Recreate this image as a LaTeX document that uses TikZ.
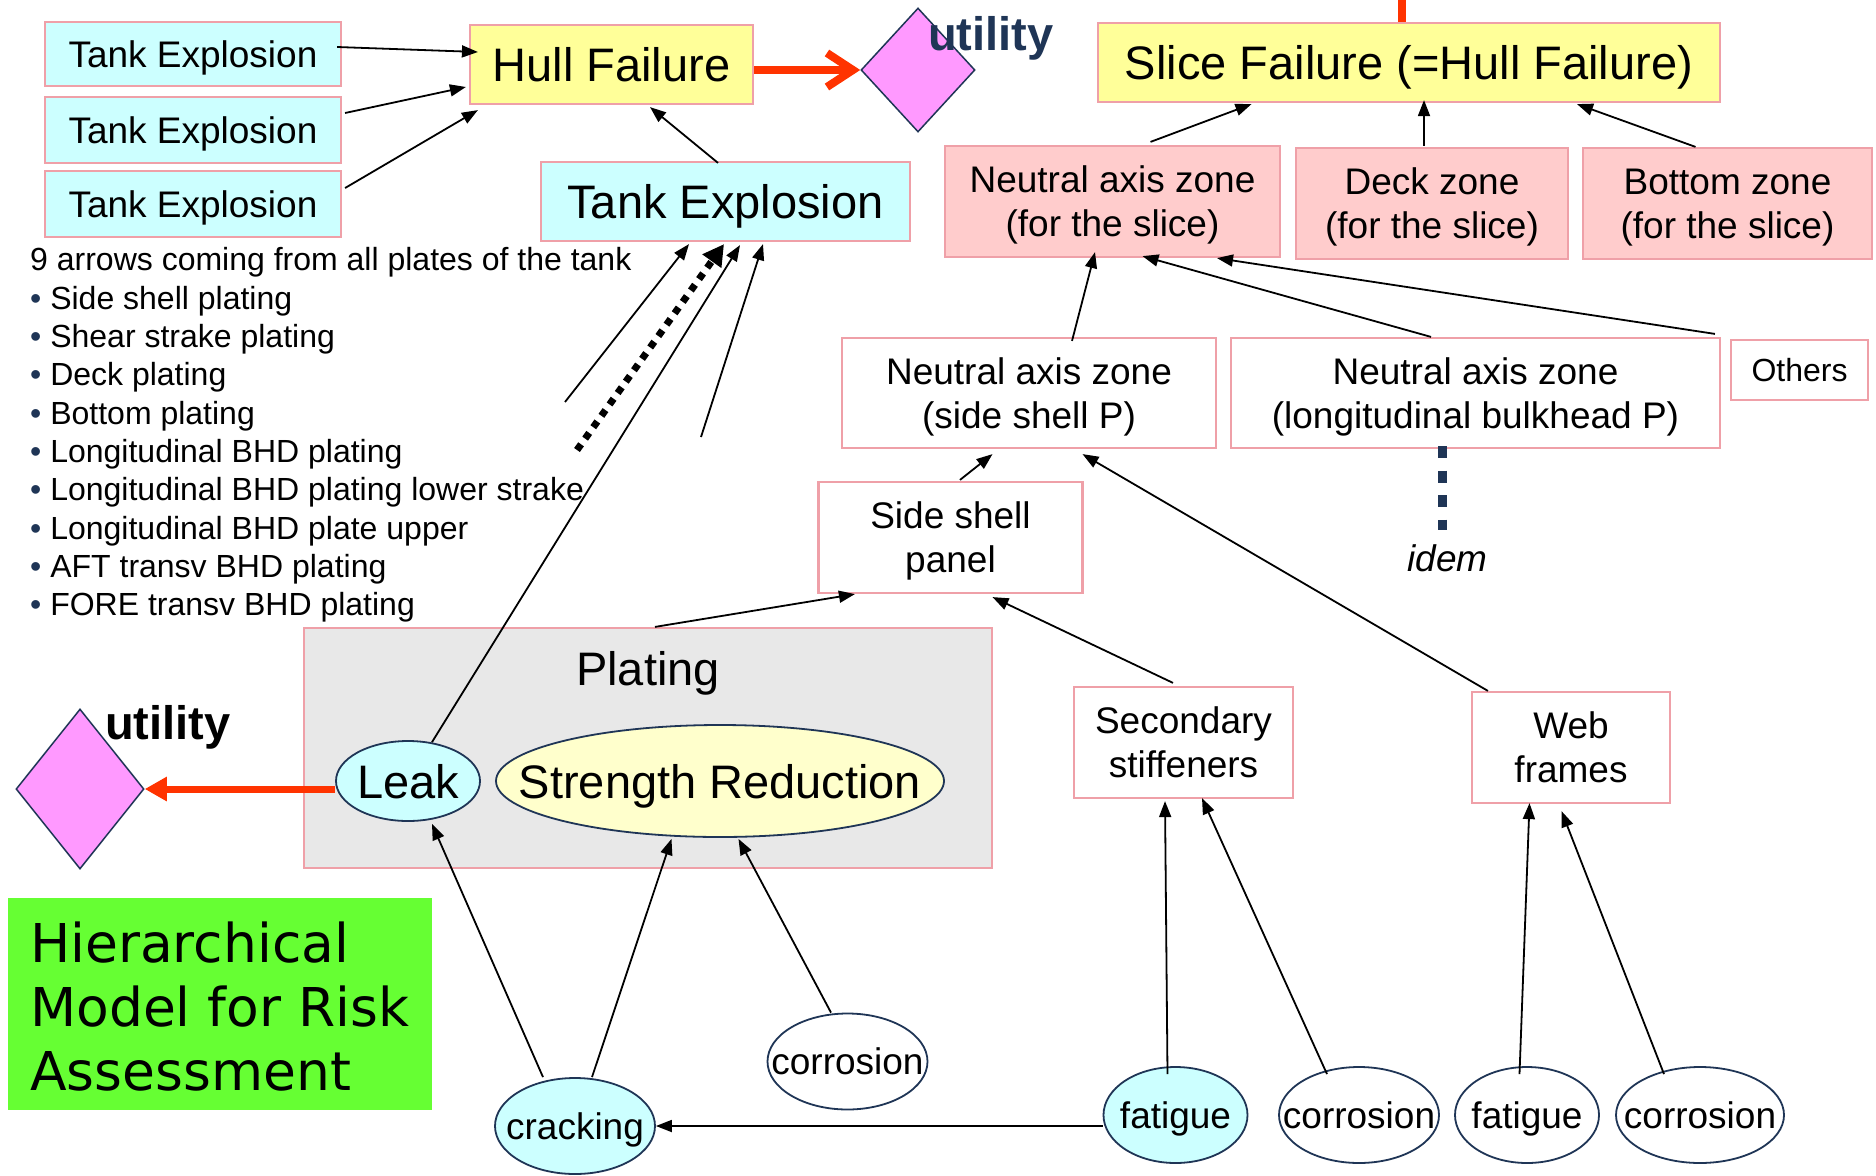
\documentclass[tikz,border=0pt]{standalone}
\usepackage{fontspec}
\setmainfont{Liberation Sans}
\newfontfamily\dejavu{DejaVu Sans}
\usetikzlibrary{arrows.meta,shapes.geometric,calc}

\definecolor{tecyan}{HTML}{CCFFFF}
\definecolor{hullyellow}{HTML}{FFFF99}
\definecolor{zonepink}{HTML}{FFCCCC}
\definecolor{boxpink}{HTML}{EFA0A8}
\definecolor{navy}{HTML}{1F3556}
\definecolor{platgray}{HTML}{E8E8E8}
\definecolor{srfill}{HTML}{FFFFCC}
\definecolor{diapink}{HTML}{FF99FF}
\definecolor{hotred}{HTML}{FF3300}
\definecolor{titlegreen}{HTML}{66FF33}

\newcommand{\dgS}{\fontsize{32}{38}\selectfont}
\newcommand{\dgM}{\fontsize{37}{44}\selectfont}
\newcommand{\dgL}{\fontsize{47}{56}\selectfont}
\newcommand{\dgG}{\dejavu\fontsize{53.5}{63}\selectfont}

\begin{document}
\begin{tikzpicture}[x=1pt,y=-1pt,
  box/.style={rectangle,draw=boxpink,line width=2.2pt,inner sep=0pt,align=center,text depth=0pt},
  cyanbox/.style={box,fill=tecyan},
  yelbox/.style={box,fill=hullyellow,font=\dgL},
  zonebox/.style={box,fill=zonepink,font=\dgM},
  plainbox/.style={box,fill=white,font=\dgM},
  ell/.style={ellipse,draw=navy,line width=1.8pt,inner sep=0pt},
  etext/.style={inner sep=0pt,font=\dgM,text depth=0pt},
  dia/.style={diamond,draw=navy,fill=diapink,line width=1.5pt,inner sep=0pt},
  arr/.style={line width=1.8pt,-{Triangle[length=16pt,width=12pt]}},
  dotarr/.style={line width=7pt,dash pattern=on 7pt off 7pt,
    -{Triangle[length=21pt,width=22pt,sep=0pt]}},
  listline/.style={anchor=base west,inner sep=0pt,font=\dgS},
  greenline/.style={anchor=base west,inner sep=0pt,font=\dgG},
  utiltext/.style={anchor=base west,inner sep=0pt,font=\dgL\bfseries}
]
\useasboundingbox (0,0) rectangle (1876,1175);
\fill[white] (0,0) rectangle (1876,1175);

% ---------- top left: tank explosions feeding hull failure
\node[cyanbox,font=\dgM,minimum width=296pt,minimum height=64pt] (te1) at (193,54) {Tank Explosion};
\node[cyanbox,font=\dgM,minimum width=296pt,minimum height=66pt] (te2) at (193,130) {Tank Explosion};
\node[cyanbox,font=\dgM,minimum width=296pt,minimum height=66pt] (te3) at (193,204) {Tank Explosion};
\node[yelbox,minimum width=283pt,minimum height=79pt] (hull) at (611.5,64.5) {Hull Failure};
\node[cyanbox,font=\dgL,minimum width=369pt,minimum height=79pt] (bigte) at (725.5,201.5) {Tank Explosion};

% utility diamond next to hull failure
\node[dia,minimum width=114pt,minimum height=124pt] (dia1) at (918,70) {};
\node[utiltext,text=navy] (util1) at (928,50) {utility};

% ---------- slice failure and its zones
\node[yelbox,minimum width=622pt,minimum height=79pt] (slice) at (1409,62.5) {Slice Failure (=Hull Failure)};
\node[zonebox,minimum width=335pt,minimum height=111pt] (nazs) at (1112.5,201.5) {Neutral axis zone\\(for the slice)};
\node[zonebox,minimum width=272pt,minimum height=111pt] (deck) at (1432,203.5) {Deck zone\\(for the slice)};
\node[zonebox,minimum width=289pt,minimum height=111pt] (bot) at (1727.5,203.5) {Bottom zone\\(for the slice)};

\node[plainbox,minimum width=374pt,minimum height=110pt] (nside) at (1029,393) {Neutral axis zone\\(side shell P)};
\node[plainbox,minimum width=489pt,minimum height=110pt] (nlong) at (1475.5,393) {Neutral axis zone\\(longitudinal bulkhead P)};
\node[plainbox,font=\dgS,minimum width=137pt,minimum height=60pt] (others) at (1799.5,370) {Others};
\node[inner sep=0pt,font=\dgM\itshape] (idem) at (1447.5,558) {idem};

\node[plainbox,minimum width=264pt,minimum height=111pt] (panel) at (950.5,537.5) {Side shell\\panel};
\node[plainbox,minimum width=219pt,minimum height=111pt] (sec) at (1183.5,742.5) {Secondary\\stiffeners};
\node[plainbox,minimum width=198pt,minimum height=111pt] (web) at (1571,747.5) {Web\\frames};

% ---------- list of plates
\node[listline] (l0) at (30,270) {9 arrows coming from all plates of the tank};
\foreach \txt [count=\i] in {Side shell plating,Shear strake plating,Deck plating,Bottom plating,
  Longitudinal BHD plating,Longitudinal BHD plating lower strake,Longitudinal BHD plate upper,
  AFT transv BHD plating,FORE transv BHD plating}
  \node[listline] (l\i) at (30,271+38.3*\i) {\textcolor{navy}{•} \txt};

% ---------- plating group
\node[box,fill=platgray,minimum width=688pt,minimum height=240pt] (plating) at (648,748) {};
\node[inner sep=0pt,font=\dgL,text depth=0pt] (platingtxt) at (648,668) {Plating};
\node[ell,fill=tecyan,minimum width=144pt,minimum height=80pt] (leak) at (408,781) {};
\node[etext,font=\dgL] (leakt) at (leak) {Leak};
\node[ell,fill=srfill,minimum width=448pt,minimum height=112pt] (sr) at (720,781) {};
\node[etext,font=\dgL] (srt) at (sr) {Strength Reduction};

% utility diamond next to leak
\node[dia,minimum width=128pt,minimum height=160pt] (dia2) at (80,789) {};
\node[utiltext] (util2) at (105,739) {utility};

% ---------- title
\node[rectangle,fill=titlegreen,minimum width=424pt,minimum height=212pt,inner sep=0pt] (title) at (220,1004) {};
\node[greenline] (g1) at (30,962) {Hierarchical};
\node[greenline] (g2) at (30,1026) {Model for Risk};
\node[greenline] (g3) at (30,1090) {Assessment};

% ---------- causes
\node[ell,fill=tecyan,minimum width=160pt,minimum height=96pt] (crack) at (575,1126) {};
\node[etext] (crackt) at (crack) {cracking};
\node[ell,fill=white,minimum width=160pt,minimum height=96pt] (cor1) at (847.5,1061.5) {};
\node[etext] (cor1t) at (cor1) {corrosion};
\node[ell,fill=tecyan,minimum width=144pt,minimum height=96pt] (fat1) at (1175.5,1115) {};
\node[etext] (fat1t) at (fat1) {fatigue};
\node[ell,fill=white,minimum width=160pt,minimum height=96pt] (cor2) at (1359,1115) {};
\node[etext] (cor2t) at (cor2) {corrosion};
\node[ell,fill=white,minimum width=144pt,minimum height=96pt] (fat2) at (1527,1115) {};
\node[etext] (fat2t) at (fat2) {fatigue};
\node[ell,fill=white,minimum width=168pt,minimum height=96pt] (cor3) at (1700,1115) {};
\node[etext] (cor3t) at (cor3) {corrosion};

% ---------- connectors
\draw[arr] ($(te1.east)+(-5,-7)$) -- ($(hull.west)+(9,-12.5)$);
\draw[arr] ($(te2.east)+(3,-17)$) -- ($(hull.west)+(-3,22.5)$);
\draw[arr] ($(te3.east)+(3,-16)$) -- ($(hull.south west)+(9,5)$);
\draw[arr] ($(bigte.north)+(-7.5,2)$) -- ($(hull.south)+(38.5,2)$);
\draw[hotred,line width=8pt,-{Straight Barb[length=26pt,width=34pt]}] (hull.east |- dia1.west) -- (dia1.west);

\coordinate (redtop) at (1402,0);
\draw[hotred,line width=8pt] (redtop) -- (redtop |- slice.north);

\draw[arr] ($(nazs.north)+(38,-3)$) -- ($(slice.south)+(-157.5,1)$);
\draw[arr] ($(deck.north)+(-8,-1)$) -- ($(slice.south)+(15,-3)$);
\draw[arr] ($(bot.north)+(-32,0)$) -- ($(slice.south)+(168,1)$);

\draw[arr] ($(nside.north)+(43,4)$) -- ($(nazs.south)+(-17.5,-6)$);
\draw[arr] ($(nlong.north)+(-44.5,0)$) -- ($(nazs.south)+(30,-2)$);
\draw[arr] ($(others.north west)+(-15,-5)$) -- ($(nazs.south)+(104.5,0)$);

\draw[navy,line width=9pt,dash pattern=on 12pt off 12.5pt]
  ($(nlong.south)+(-33,-3)$) coordinate (d0) -- ($(d0 |- idem.north)+(0,-14)$);

\draw[arr] ($(panel.north)+(9.5,-1)$) -- ($(nside.south)+(-36.5,5)$);
\draw[arr] ($(web.north west)+(17,0)$) -- ($(nside.south)+(53.5,5)$);
\draw[arr] ($(plating.north)+(7,0)$) -- ($(panel.south west)+(37.5,0)$);
\draw[arr] ($(sec.north)+(-10.5,-3)$) -- ($(panel.south)+(42,3)$);

% arrows from the plates into the tank explosion
\coordinate (pa) at (565,402);
\coordinate (pb) at (577,450);
\coordinate (pc) at (701,437);
\draw[arr] (pa) -- ($(bigte.south)+(-36.5,2)$);
\draw[dotarr] (pb) -- ($(bigte.south)+(-1.5,2)$);
\draw[arr] (pc) -- ($(bigte.south)+(37.5,2)$);
\draw[arr] ($(leak.north)+(24,2)$) -- ($(bigte.south)+(14.5,3)$);

\draw[hotred,line width=7pt,-{Triangle[length=22pt,width=23pt]}] (leak.west |- dia2.east) -- (dia2.east);

\draw[arr] ($(crack.north)+(-32,0)$) -- ($(leak.south)+(24,2)$);
\draw[arr] ($(crack.north)+(17,0)$) -- ($(sr.south)+(-48.5,1)$);
\draw[arr] ($(cor1.north)+(-16.5,0)$) -- ($(sr.south)+(18.5,1)$);
\draw[arr] (fat1.west |- crack.east) -- (crack.east);
\draw[arr] ($(fat1.north)+(-8,8)$) -- ($(sec.south)+(-18.5,2)$);
\draw[arr] ($(cor2.north)+(-32,8)$) -- ($(sec.south)+(18.5,-1)$);
\draw[arr] ($(fat2.north)+(-7.5,8)$) -- ($(web.south)+(-41.5,-1)$);
\draw[arr] ($(cor3.north)+(-36,8)$) -- ($(web.south)+(-9.5,7)$);
\end{tikzpicture}
\end{document}
